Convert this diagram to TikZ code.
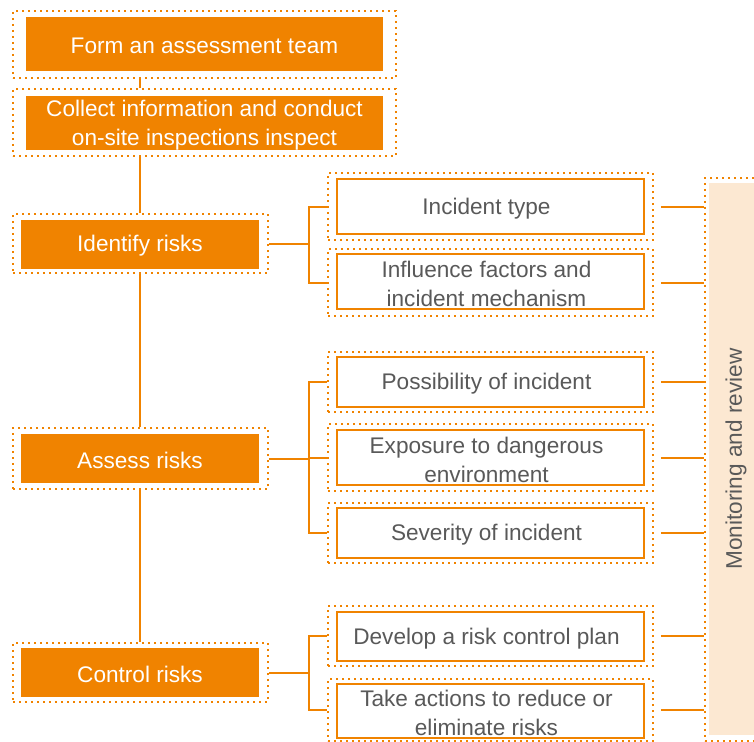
\documentclass[tikz,border=0pt]{standalone}
\usepackage{fontspec}
\setmainfont{Liberation Sans}
\definecolor{org}{HTML}{F08300}
\definecolor{lightorg}{HTML}{FCE8D2}
\definecolor{txtgray}{HTML}{595959}
\tikzset{
  frame/.style={draw=org, line width=1.8pt, dash pattern=on 1.8pt off 4.2pt, minimum width=#1, inner sep=0pt},
  mainbox/.style={fill=org, draw=none, inner sep=0pt},
  subbox/.style={fill=white, draw=org, line width=2.5pt, inner sep=0pt},
  maintxt/.style={text=white, align=center, inner sep=0pt, font=\fontsize{22.6}{29}\selectfont},
  subtxt/.style={text=txtgray, align=center, inner sep=0pt, font=\fontsize{22.6}{29}\selectfont},
  conn/.style={draw=org, line width=2pt},
}
\begin{document}
\begin{tikzpicture}[x=1pt,y=-1pt]
\useasboundingbox (0,0) rectangle (754,741);
% monitoring
\node[frame=70pt, minimum height=563pt, anchor=north west] (monO) at (704,177) {};
\node[fill=lightorg, minimum width=70pt, minimum height=552pt, inner sep=0pt, anchor=north west] (mon) at (709,183) {};
\node[rotate=90, text=txtgray, font=\fontsize{22.6}{29}\selectfont] (monT) at (736,459) {Monitoring and review};
% left column
\node[frame=383pt, minimum height=67pt] (f1o) at (204.5,44.5) {};
\node[mainbox, minimum width=357pt, minimum height=54pt] (f1) at (204.5,44) {};
\node[maintxt] (f1t) at ([yshift=-2pt]f1.center) {Form an assessment team};
\node[frame=383pt, minimum height=67pt] (f2o) at (204.5,122.5) {};
\node[mainbox, minimum width=357pt, minimum height=54pt] (f2) at (204.5,123) {};
\node[maintxt] (f2t) at ([yshift=-2pt]f2.center) {Collect information and conduct\\on-site inspections inspect};
\node[frame=255pt, minimum height=59pt] (idO) at (140.5,243.5) {};
\node[mainbox, minimum width=238pt, minimum height=49pt] (id) at (140,244) {};
\node[maintxt] (idt) at ([yshift=-2pt]id.center) {Identify risks};
\node[frame=255pt, minimum height=61pt] (asO) at (140.5,458.5) {};
\node[mainbox, minimum width=238pt, minimum height=49pt] (as) at (140,458.5) {};
\node[maintxt] (ast) at ([yshift=-2pt]as.center) {Assess risks};
\node[frame=255pt, minimum height=59pt] (coO) at (140.5,672.5) {};
\node[mainbox, minimum width=238pt, minimum height=49pt] (co) at (140,672.5) {};
\node[maintxt] (cot) at ([yshift=-2pt]co.center) {Control risks};
% right column
\node[frame=325pt, minimum height=67pt] (itO) at (490.5,206.5) {};
\node[subbox, minimum width=307pt, minimum height=55pt] (it) at (490.5,206.5) {};
\node[subtxt] (itt) at ([xshift=-4pt,yshift=-2pt]it.center) {Incident type};
\node[frame=325pt, minimum height=67pt] (ifO) at (490.5,282.5) {};
\node[subbox, minimum width=307pt, minimum height=55pt] (if) at (490.5,281.5) {};
\node[subtxt] (ift) at ([xshift=-4pt,yshift=-2pt]if.center) {Influence factors and\\incident mechanism};
\node[frame=325pt, minimum height=60pt] (poO) at (490.5,382) {};
\node[subbox, minimum width=307pt, minimum height=50pt] (po) at (490.5,382) {};
\node[subtxt] (pot) at ([xshift=-4pt,yshift=-2pt]po.center) {Possibility of incident};
\node[frame=325pt, minimum height=67pt] (exO) at (490.5,457.5) {};
\node[subbox, minimum width=307pt, minimum height=55pt] (ex) at (490.5,457.5) {};
\node[subtxt] (ext) at ([xshift=-4pt,yshift=-2pt]ex.center) {Exposure to dangerous\\environment};
\node[frame=325pt, minimum height=60pt] (seO) at (490.5,533) {};
\node[subbox, minimum width=307pt, minimum height=50pt] (se) at (490.5,533) {};
\node[subtxt] (set) at ([xshift=-4pt,yshift=-2pt]se.center) {Severity of incident};
\node[frame=325pt, minimum height=60pt] (deO) at (490.5,636) {};
\node[subbox, minimum width=307pt, minimum height=49pt] (de) at (490.5,636.5) {};
\node[subtxt] (det) at ([xshift=-4pt,yshift=-2pt]de.center) {Develop a risk control plan};
\node[frame=325pt, minimum height=62pt] (taO) at (490.5,710) {};
\node[subbox, minimum width=307pt, minimum height=54pt] (ta) at (490.5,711) {};
\node[subtxt] (tat) at ([xshift=-4pt,yshift=-2pt]ta.center) {Take actions to reduce or\\eliminate risks};
% vertical spine
\draw[conn] (f1o.south -| id) -- (f2o.north -| id);
\draw[conn] (f2o.south -| id) -- (idO.north -| id);
\draw[conn] (idO.south -| id) -- (asO.north -| id);
\draw[conn] (asO.south -| id) -- (coO.north -| id);
% brackets
\draw[conn] (idO.east) -- ([xshift=-18pt]idO.east -| itO.west);
\draw[conn] (itO.west) -- ++(-18,0) |- (ifO.west);
\draw[conn] (asO.east) -- ([xshift=-18pt]asO.east -| poO.west);
\draw[conn] (poO.west) -- ++(-18,0) |- (seO.west);
\draw[conn] (exO.west) -- ++(-18,0);
\draw[conn] (coO.east) -- ([xshift=-18pt]coO.east -| deO.west);
\draw[conn] (deO.west) -- ++(-18,0) |- (taO.west);
% right connectors
\foreach \n in {it,if,po,ex,se,de,ta}{
  \draw[conn] ([xshift=7pt]\n O.east) -- (\n O.east -| monO.west);
}
\end{tikzpicture}
\end{document}
